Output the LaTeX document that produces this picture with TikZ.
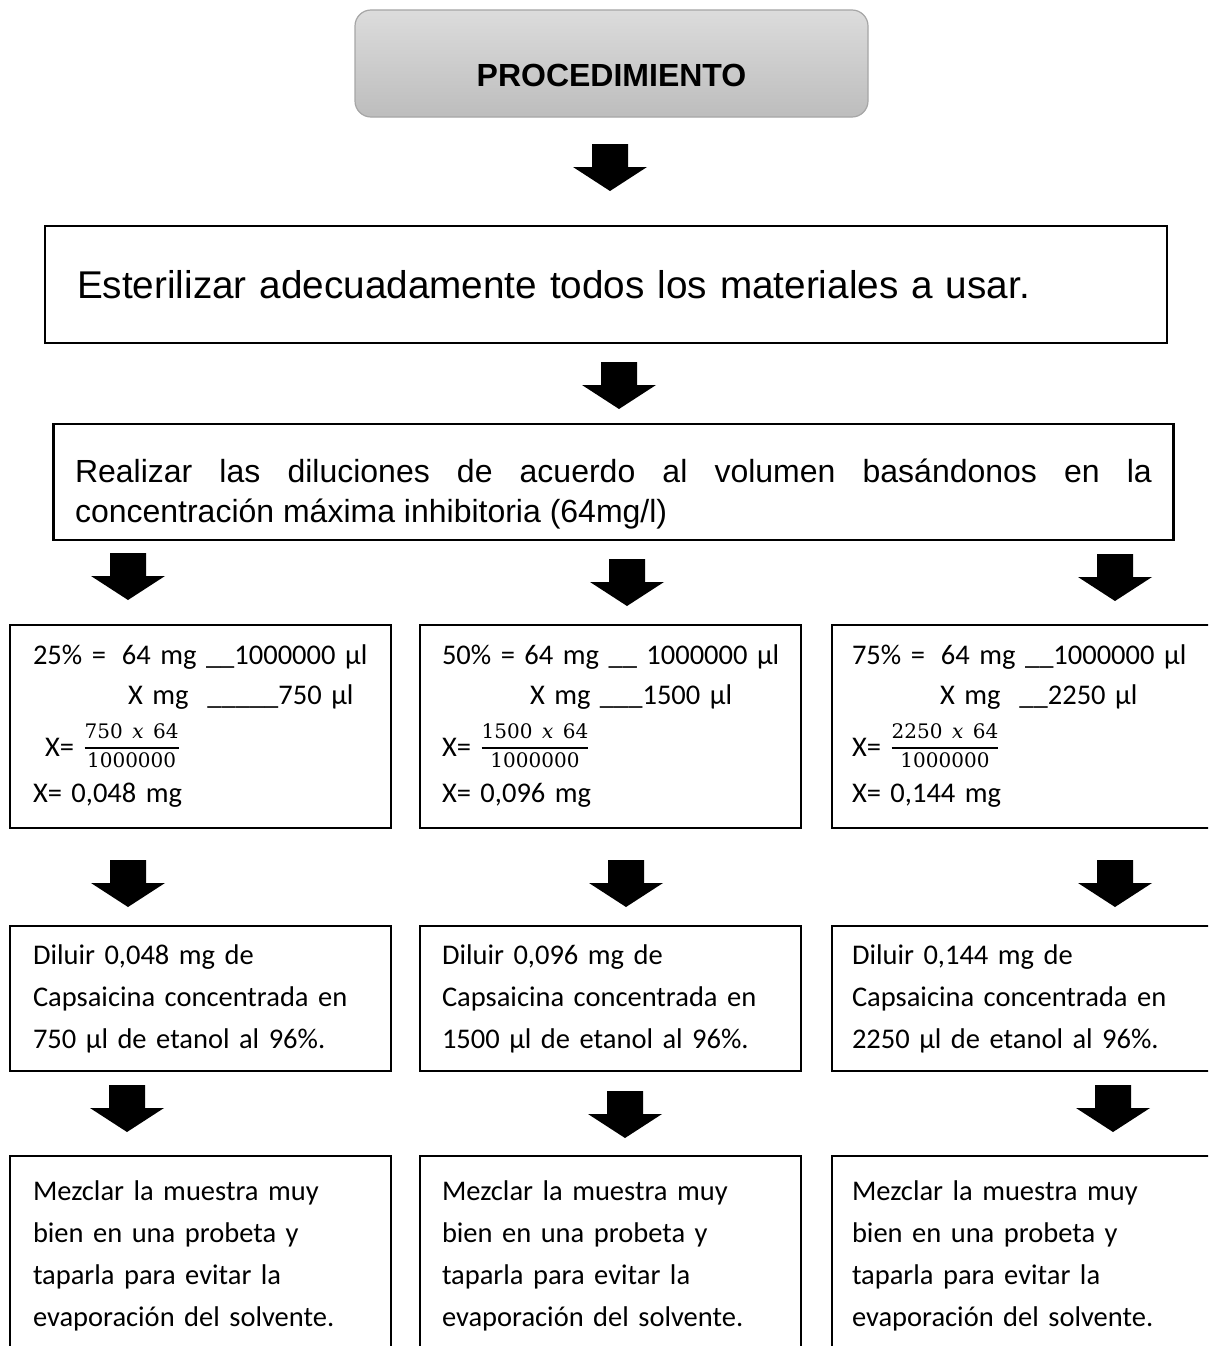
\documentclass[tikz,border=0pt]{standalone}
\usepackage{fontspec}
\usepackage{amsmath}
\setmainfont{Carlito}
\newfontfamily\arialfont{Liberation Sans}
\newfontfamily\cambriaf{DejaVu Serif}
\definecolor{topA}{HTML}{DCDCDC}
\definecolor{topB}{HTML}{BDBDBD}
\definecolor{topEdge}{HTML}{A6A6A6}
\newcommand\blkarrow[2]{\fill[black] (#1-18,#2) -- (#1+18,#2) -- (#1+18,#2+23) -- (#1+37,#2+23) -- (#1,#2+47) -- (#1-37,#2+23) -- (#1-18,#2+23) -- cycle;}
\newcommand\fracx[2]{\smash{\raisebox{4pt}{\fontsize{22}{22}\selectfont$\genfrac{}{}{1.5pt}{0}{\hbox{\cambriaf\fontsize{20}{20}\selectfont #1 {\itshape x} 64}}{\hbox{\cambriaf\fontsize{20}{20}\selectfont #2}}$}}}
\tikzset{
  frame/.style={draw=black, line width=2.2pt, inner sep=0pt},
  arialtxt/.style={font=\arialfont\fontsize{32}{40}\selectfont},
  calib/.style={font=\fontsize{28.5}{42}\selectfont},
  calibf/.style={font=\fontsize{28.5}{40}\selectfont},
}
\begin{document}
\begin{tikzpicture}[x=1pt,y=-1pt]
\useasboundingbox (0,0) rectangle (1208,1346);
\clip (0,0) rectangle (1208,1346);
\fill[white] (0,0) rectangle (1208,1346);

% title
\node[draw=topEdge, line width=1.2pt, rounded corners=16pt, top color=topA, bottom color=topB,
  minimum width=513pt, minimum height=107pt, inner sep=0pt, text height=45pt, text depth=0pt,
  font=\arialfont\bfseries\fontsize{32}{32}\selectfont] (proc) at (611.5,63.5) {PROCEDIMIENTO};
\blkarrow{610}{144}

% step 1
\node[frame, font=\arialfont\fontsize{38.7}{44}\selectfont, minimum width=1122pt, minimum height=117pt, text width=1058pt, align=left]
  (steril) at (606,284.5) {Esterilizar adecuadamente todos los materiales a usar.};
\blkarrow{619}{362}

% step 2
\node[frame, arialtxt, minimum width=1120pt, minimum height=116pt, text width=1077pt, align=justify]
  (diluc) at (613.5,482) {\rule{0pt}{47pt}Realizar las diluciones de acuerdo al volumen basándonos en la \mbox{concentración} máxima inhibitoria (64mg/l)};
\blkarrow{128}{553}
\blkarrow{627}{559}
\blkarrow{1115}{554}

% formula boxes
\node[frame, calibf, minimum width=381pt, minimum height=203pt, text width=335pt, align=left]
  (f1) at (200.5,726.5) {\mbox{25\% =\hspace{16pt}64 mg \_\_1000000 µl}\\
  \mbox{\hspace*{95pt}X mg\ \ \_\_\_\_\_750 µl}\\[12pt]
  \mbox{\hspace*{12pt}X=\ \fracx{750}{1000000}}\\[6pt]
  \mbox{X= 0,048 mg}};
\node[frame, calibf, minimum width=381pt, minimum height=203pt, text width=337pt, align=left]
  (f2) at (610.5,726.5) {\mbox{50\% = 64 mg \_\_ 1000000 µl}\\
  \mbox{\hspace*{88pt}X mg\ \_\_\_1500 µl}\\[12pt]
  \mbox{X=\ \fracx{1500}{1000000}}\\[6pt]
  \mbox{X= 0,096 mg}};
\node[frame, calibf, minimum width=380pt, minimum height=203pt, text width=340pt, align=left]
  (f3) at (1022,726.5) {\mbox{75\% =\hspace{16pt}64 mg \_\_1000000 µl}\\
  \mbox{\hspace*{88pt}X mg\ \ \_\_2250 µl}\\[12pt]
  \mbox{X=\ \fracx{2250}{1000000}}\\[6pt]
  \mbox{X= 0,144 mg}};
\blkarrow{128}{860}
\blkarrow{626}{860}
\blkarrow{1115}{860}

% dilution boxes
\node[frame, calib, minimum width=381pt, minimum height=145pt, text width=335pt, align=left]
  (d1) at (200.5,998.5) {Diluir 0,048 mg de\\ Capsaicina concentrada en\\ 750 µl de etanol al 96\%.};
\node[frame, calib, minimum width=381pt, minimum height=145pt, text width=337pt, align=left]
  (d2) at (610.5,998.5) {Diluir 0,096 mg de\\ Capsaicina concentrada en\\ 1500 µl de etanol al 96\%.};
\node[frame, calib, minimum width=380pt, minimum height=145pt, text width=340pt, align=left]
  (d3) at (1022,998.5) {Diluir 0,144 mg de\\ Capsaicina concentrada en\\ 2250 µl de etanol al 96\%.};
\blkarrow{127}{1085}
\blkarrow{625}{1091}
\blkarrow{1113}{1085}

% mixing boxes
\node[frame, calib, minimum width=381pt, minimum height=200pt, text width=335pt, align=left]
  (m1) at (200.5,1256) {Mezclar la muestra muy\\ bien en una probeta y\\ taparla para evitar la\\ evaporación del solvente.};
\node[frame, calib, minimum width=381pt, minimum height=200pt, text width=337pt, align=left]
  (m2) at (610.5,1256) {Mezclar la muestra muy\\ bien en una probeta y\\ taparla para evitar la\\ evaporación del solvente.};
\node[frame, calib, minimum width=380pt, minimum height=200pt, text width=340pt, align=left]
  (m3) at (1022,1256) {Mezclar la muestra muy\\ bien en una probeta y\\ taparla para evitar la\\ evaporación del solvente.};
\end{tikzpicture}
\end{document}
